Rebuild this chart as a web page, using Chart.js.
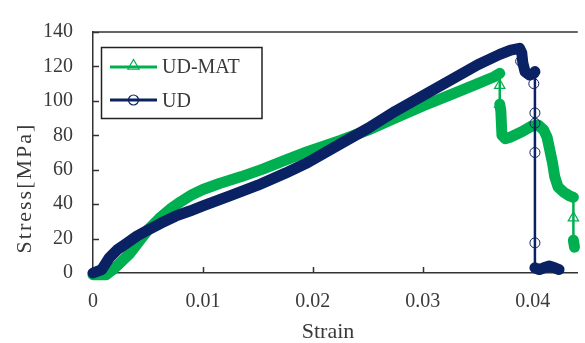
<!DOCTYPE html>
<html>
<head>
<meta charset="utf-8">
<script src="https://cdn.jsdelivr.net/npm/chart.js@4"></script>
<style>
  html, body { margin: 0; padding: 0; background: #fff; }
</style>
</head>
<body>
<canvas id="chart" width="585" height="343"></canvas>
<script>
// UD (navy, circles)
const strainUD = [0, 0.0008, 0.0015, 0.0022, 0.003, 0.004, 0.005, 0.0062, 0.0075, 0.0088, 0.01, 0.0125, 0.015, 0.0175, 0.0195, 0.0225, 0.025, 0.0275, 0.03, 0.0325, 0.035, 0.037, 0.038, 0.0388, 0.039, 0.0391, 0.0393, 0.0397, 0.0401, 0.0402, 0.0402, 0.0402, 0.0402, 0.0402, 0.0402, 0.0402, 0.0406, 0.041, 0.0415, 0.042, 0.0424]
const stressUD = [0, 2, 9, 13.5, 17, 21.5, 25, 29, 33, 36, 39, 45, 51, 58, 64, 75, 84, 94, 103, 112, 121, 127, 129.5, 130.5, 128, 122, 117, 115, 116, 117, 110, 93, 87, 70, 17, 3, 2, 3, 4, 3, 2]
const udMarkStrain = [0.0389, 0.0401, 0.0402, 0.0402, 0.0402, 0.0402]
const udMarkStress = [123, 110, 93, 87, 70, 17.5]

// UD-MAT (green, triangles)
const strainMAT = [0, 0.0012, 0.002, 0.0033, 0.005, 0.006, 0.007, 0.008, 0.009, 0.01, 0.0115, 0.0135, 0.0155, 0.0175, 0.0195, 0.0225, 0.025, 0.0275, 0.03, 0.0325, 0.035, 0.0365, 0.037, 0.037, 0.037, 0.0371, 0.0372, 0.0375, 0.038, 0.039, 0.0398, 0.0405, 0.041, 0.0413, 0.0416, 0.0418, 0.042, 0.0423, 0.0428, 0.0433, 0.0437, 0.0437, 0.0437, 0.0438]
const stressMAT = [-1, -1, 3, 11, 25, 31.5, 37, 41.5, 45.5, 48.5, 52, 56, 60.5, 65.5, 70.5, 77, 83, 90, 97, 103.5, 110, 114, 116, 109, 98, 94, 80, 78, 79, 82, 85, 86, 83, 79, 70, 64, 56, 50, 47, 45, 44, 32, 19, 15]
const matMarkStrain = [0.037, 0.037, 0.0437]
const matMarkStress = [109, 98, 32]

const xTicks = [0, 0.01, 0.02, 0.03, 0.04]
const yTicks = [0, 20, 40, 60, 80, 100, 120, 140]

const GREEN = '#00b050'
const NAVY = '#0a2264'
const AXIS = '#333'
const TEXT = '#3a3a3a'
const SERIF = '"Liberation Serif", "DejaVu Serif", serif'

const pts = (xs, ys) => xs.map((x, i) => ({ x: x, y: ys[i] }))

// vertical drops are drawn thin, the dense parts thick
const thin = ctx => ctx.p0.parsed.x === ctx.p1.parsed.x && Math.abs(ctx.p0.parsed.y - ctx.p1.parsed.y) > 3

const triangle = (ctx, x, y, r) => {
  ctx.beginPath()
  ctx.moveTo(x, y - r)
  ctx.lineTo(x + r * 0.87, y + r * 0.5)
  ctx.lineTo(x - r * 0.87, y + r * 0.5)
  ctx.closePath()
  ctx.stroke()
}

const frame = {
  id: 'frame',
  beforeDatasetsDraw (chart) {
    const { ctx, chartArea: a, scales: { x, y } } = chart
    ctx.save()
    ctx.strokeStyle = AXIS
    ctx.lineWidth = 1.5
    ctx.beginPath()
    ctx.moveTo(a.left, a.top)
    ctx.lineTo(a.right, a.top)
    xTicks.forEach(v => {
      const px = Math.round(x.getPixelForValue(v)) + 0.5
      ctx.moveTo(px, a.bottom)
      ctx.lineTo(px, a.bottom - 6)
    })
    yTicks.forEach(v => {
      const py = Math.round(y.getPixelForValue(v)) + 0.5
      ctx.moveTo(a.left, py)
      ctx.lineTo(a.left + 6, py)
    })
    ctx.stroke()
    ctx.restore()
  },
  afterDraw (chart) {
    const ctx = chart.ctx
    ctx.save()
    ctx.fillStyle = TEXT

    // axis titles
    ctx.font = '22px ' + SERIF
    ctx.textAlign = 'center'
    ctx.textBaseline = 'alphabetic'
    ctx.fillText('Strain', 328, 338)
    ctx.translate(31, 188)
    ctx.rotate(-Math.PI / 2)
    ctx.letterSpacing = '2px'
    ctx.fillText('Stress[MPa]', 0, 0)
    ctx.restore()

    // legend
    ctx.save()
    ctx.fillStyle = '#fff'
    ctx.fillRect(101, 47, 161, 71)
    ctx.strokeStyle = '#222'
    ctx.lineWidth = 1.5
    ctx.strokeRect(101.5, 47.5, 160.5, 71)
    const items = [
      { label: 'UD-MAT', color: GREEN, y: 67, base: 73 },
      { label: 'UD', color: NAVY, y: 100, base: 107 }
    ]
    items.forEach((it, i) => {
      ctx.strokeStyle = it.color
      ctx.lineWidth = 3
      ctx.beginPath()
      ctx.moveTo(110, it.y)
      ctx.lineTo(157, it.y)
      ctx.stroke()
      ctx.lineWidth = 1.2
      if (i === 0) {
        triangle(ctx, 133.5, it.y - 1, 6.5)
      } else {
        ctx.beginPath()
        ctx.arc(133.5, it.y, 5, 0, Math.PI * 2)
        ctx.stroke()
      }
      ctx.fillStyle = TEXT
      ctx.font = '20px ' + SERIF
      ctx.textAlign = 'left'
      ctx.fillText(it.label, 162, it.base)
    })
    ctx.restore()
  }
}

const tickFont = { family: SERIF, size: 20 }

new Chart(document.getElementById('chart'), {
  type: 'line',
  data: {
    datasets: [
      {
        label: 'UD markers',
        data: pts(udMarkStrain, udMarkStress),
        showLine: false,
        pointStyle: 'circle',
        pointRadius: 5,
        pointBorderWidth: 1,
        pointBorderColor: NAVY,
        pointBackgroundColor: 'rgba(0,0,0,0)',
        order: 0,
        clip: false
      },
      {
        label: 'UD',
        data: pts(strainUD, stressUD),
        borderColor: NAVY,
        borderWidth: 11,
        borderCapStyle: 'round',
        borderJoinStyle: 'round',
        segment: { borderWidth: ctx => thin(ctx) ? 2.5 : undefined },
        pointRadius: 0,
        tension: 0,
        order: 1,
        clip: false
      },
      {
        label: 'UD-MAT markers',
        data: pts(matMarkStrain, matMarkStress),
        showLine: false,
        pointStyle: 'triangle',
        pointRadius: 6,
        pointBorderWidth: 1.2,
        pointBorderColor: GREEN,
        pointBackgroundColor: 'rgba(0,0,0,0)',
        order: 2,
        clip: false
      },
      {
        label: 'UD-MAT',
        data: pts(strainMAT, stressMAT),
        borderColor: GREEN,
        borderWidth: 11,
        borderCapStyle: 'round',
        borderJoinStyle: 'round',
        segment: { borderWidth: ctx => thin(ctx) ? 2.5 : undefined },
        pointRadius: 0,
        tension: 0,
        order: 3,
        clip: false
      }
    ]
  },
  options: {
    responsive: false,
    animation: false,
    layout: { padding: { top: 22, left: 0, right: 0, bottom: 0 } },
    plugins: { legend: { display: false }, tooltip: { enabled: false } },
    scales: {
      x: {
        type: 'linear',
        min: 0,
        max: 0.0441,
        afterBuildTicks: s => { s.ticks = xTicks.map(v => ({ value: v })) },
        afterFit: s => { s.height = 70 },
        grid: { display: false, drawTicks: false },
        border: { color: AXIS, width: 1.5 },
        ticks: { padding: 17, color: TEXT, font: tickFont, maxRotation: 0, callback: v => String(v) }
      },
      y: {
        min: 0,
        max: 140,
        afterBuildTicks: s => { s.ticks = yTicks.map(v => ({ value: v })) },
        afterFit: s => { s.width = 93 },
        grid: { display: false, drawTicks: false },
        border: { color: AXIS, width: 1.5 },
        ticks: { padding: 20, color: TEXT, font: tickFont, callback: v => String(v) }
      }
    }
  },
  plugins: [frame]
})
</script>
</body>
</html>
